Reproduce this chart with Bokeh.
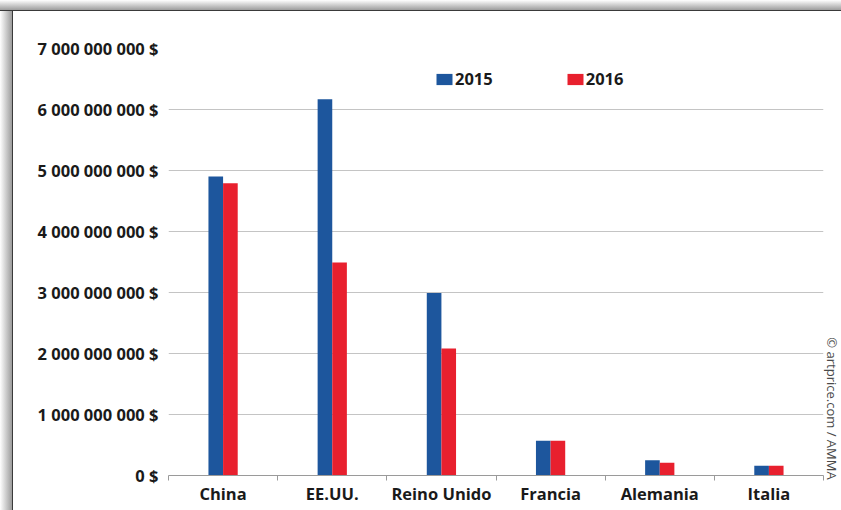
import math
from bokeh.plotting import figure
from bokeh.models import ColumnDataSource, FixedTicker, Label, Range1d
from bokeh.transform import dodge
from bokeh.embed import file_html
from bokeh.resources import INLINE

categories = ["China", "EE.UU.", "Reino Unido", "Francia", "Alemania", "Italia"]
values_2015 = [4.90e9, 6.17e9, 2.99e9, 0.57e9, 0.25e9, 0.16e9]
values_2016 = [4.79e9, 3.49e9, 2.08e9, 0.57e9, 0.21e9, 0.16e9]
series_names = ["2015", "2016"]
y_ticks = [0, 1e9, 2e9, 3e9, 4e9, 5e9, 6e9, 7e9]
y_tick_labels = ["0 $", "1 000 000 000 $", "2 000 000 000 $", "3 000 000 000 $",
                 "4 000 000 000 $", "5 000 000 000 $", "6 000 000 000 $", "7 000 000 000 $"]
credit = "© artprice.com / AMMA"

BLUE = "#1d569d"
RED = "#e8202e"
FONT = "Open Sans"
TXT = "#1a1a1a"

centers = [i + 0.5 for i in range(len(categories))]
src = ColumnDataSource(dict(x=centers, v15=values_2015, v16=values_2016))

card_bg = ("linear-gradient(to bottom, #ffffff 0px, #9c9c9c 10px, #3a3a3a 10px, #3a3a3a 11.5px, "
           "rgba(255,255,255,0) 11.5px), "
           "linear-gradient(to right, #ffffff 0px, #9c9c9c 12px, #3a3a3a 12px, #3a3a3a 13.5px, "
           "rgba(255,255,255,0) 13.5px)")

p = figure(width=841, height=510, x_range=Range1d(0, len(categories)),
           y_range=Range1d(0, 7e9), output_backend="svg", toolbar_location=None,
           min_border_left=168, min_border_right=15, min_border_top=48, min_border_bottom=35,
           styles={"background-color": "#ffffff", "background-image": card_bg})
p.outline_line_color = None
p.background_fill_color = None
p.border_fill_color = None

bw = 0.134
p.vbar(x=dodge("x", -bw / 2), top="v15", width=bw, source=src,
       fill_color=BLUE, line_color=None, legend_label=series_names[0])
p.vbar(x=dodge("x", bw / 2), top="v16", width=bw, source=src,
       fill_color=RED, line_color=None, legend_label=series_names[1])

# x axis
xa = p.xaxis[0]
xa.ticker = FixedTicker(ticks=centers, minor_ticks=list(range(len(categories) + 1)))
xa.major_label_overrides = {c: n for c, n in zip(centers, categories)}
xa.axis_line_color = "#9a9a9a"
xa.minor_tick_line_color = "#9a9a9a"
xa.minor_tick_out = 5
xa.minor_tick_in = 0
xa.major_tick_line_color = None
xa.major_tick_out = 0
xa.major_tick_in = 0
xa.major_label_standoff = 1
xa.major_label_text_font = FONT
xa.major_label_text_font_style = "bold"
xa.major_label_text_font_size = "16.5px"
xa.major_label_text_color = TXT

# y axis
ya = p.yaxis[0]
yt = FixedTicker(ticks=y_ticks)
ya.ticker = yt
ya.major_label_overrides = {t: l for t, l in zip(y_ticks, y_tick_labels)}
ya.axis_line_color = None
ya.major_tick_line_color = None
ya.minor_tick_line_color = None
ya.major_tick_out = 0
ya.major_tick_in = 0
ya.major_label_standoff = 10
ya.major_label_text_font = FONT
ya.major_label_text_font_style = "bold"
ya.major_label_text_font_size = "16.5px"
ya.major_label_text_color = TXT

p.xgrid.grid_line_color = None
p.ygrid.ticker = yt
p.ygrid.grid_line_color = "#c4c4c4"
p.ygrid.grid_line_width = 1

# legend
lg = p.legend[0]
lg.location = (266, 385)
lg.orientation = "horizontal"
lg.glyph_width = 20
lg.glyph_height = 14
lg.label_standoff = 1
lg.spacing = 72
lg.padding = 0
lg.margin = 0
lg.border_line_color = None
lg.background_fill_alpha = 0
lg.label_text_font = FONT
lg.label_text_font_style = "bold"
lg.label_text_font_size = "16.5px"
lg.label_text_color = TXT

# credit, in the right-hand side panel
p.add_layout(Label(x=8, y=67, x_units="screen", y_units="screen", text=credit,
                   angle=-math.pi / 2, text_align="center", text_baseline="middle",
                   text_font=FONT, text_font_size="13px", text_color="#4a4a4a"), "right")

open("out.html", "w").write(file_html(p, INLINE))
